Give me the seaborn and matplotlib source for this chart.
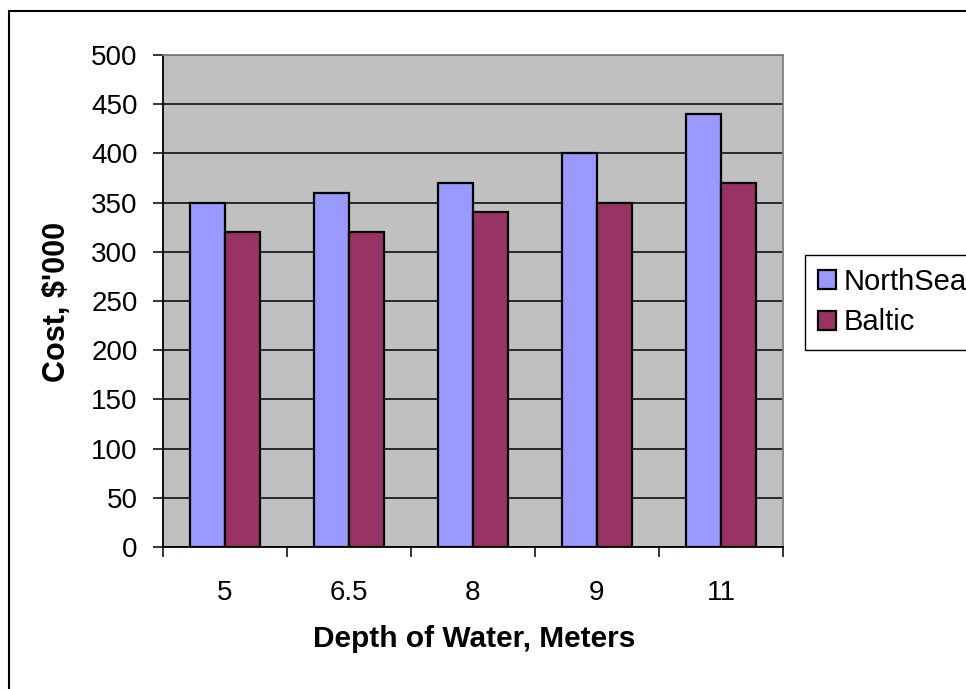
import matplotlib
matplotlib.use("Agg")
import matplotlib.pyplot as plt
import seaborn as sns
import pandas as pd
from matplotlib.patches import Rectangle

depths = ["5", "6.5", "8", "9", "11"]
north_sea = [350, 360, 370, 400, 440]
baltic = [320, 320, 340, 350, 370]
series_names = ["NorthSea", "Baltic"]
y_ticks = [0, 50, 100, 150, 200, 250, 300, 350, 400, 450, 500]

df = pd.DataFrame({
    "Depth": depths * 2,
    "Cost": north_sea + baltic,
    "Series": [series_names[0]] * len(depths) + [series_names[1]] * len(depths),
})

sns.set_theme(style="white")
plt.rcParams["font.family"] = ["Liberation Sans", "DejaVu Sans"]
plt.rcParams["text.color"] = "black"
plt.rcParams["axes.labelcolor"] = "black"
plt.rcParams["xtick.color"] = "black"
plt.rcParams["ytick.color"] = "black"

W, H = 966, 689
fig = plt.figure(figsize=(W / 100, H / 100), dpi=100)
fig.patch.set_facecolor("white")
left, right, top, bottom = 163, 783, 55, 547
ax = fig.add_axes([left / W, 1 - bottom / H, (right - left) / W, (bottom - top) / H])
ax.set_facecolor("#C0C0C0")

sns.barplot(data=df, x="Depth", y="Cost", hue="Series", order=depths,
            hue_order=series_names, palette=["#9999FF", "#993366"],
            saturation=1, width=0.565, edgecolor="black", linewidth=1.6, ax=ax,
            errorbar=None, legend=True, zorder=3)

ax.set_ylim(0, 500)
ax.set_xlim(-0.5, len(depths) - 0.5)
ax.set_yticks(y_ticks)
ax.set_yticklabels([str(v) for v in y_ticks], fontsize=20, color="black")
ax.yaxis.grid(True, color="black", linewidth=1.1, zorder=0)
ax.set_axisbelow(True)

# x ticks at category boundaries, labels at centers
ax.set_xticks([i - 0.5 for i in range(len(depths) + 1)])
ax.set_xticklabels([])
ax.set_xticks(range(len(depths)), minor=True)
ax.set_xticklabels(depths, minor=True, fontsize=20, color="black")
ax.tick_params(axis="x", which="major", direction="out", length=7.5, width=1.1,
               color="black", bottom=True)
ax.tick_params(axis="x", which="minor", length=0, pad=24, bottom=True)
ax.tick_params(axis="y", direction="out", length=7.2, width=1.1, color="black",
               pad=11, left=True)

for s in ["left", "bottom"]:
    ax.spines[s].set_color("black")
    ax.spines[s].set_linewidth(1.3)
for s in ["top", "right"]:
    ax.spines[s].set_color("#808080")
    ax.spines[s].set_linewidth(1.3)

ax.set_xlabel("Depth of Water, Meters", fontsize=21.5, fontweight="bold", color="black")
ax.set_ylabel("Cost, $'000", fontsize=22, fontweight="bold", color="black")
ax.xaxis.set_label_coords((474 - left) / (right - left), (bottom - 639) / (bottom - top))
ax.xaxis.label.set_va("center")
ax.yaxis.set_label_coords((57 - left) / (right - left), (bottom - 302) / (bottom - top))
ax.yaxis.label.set_va("center")

leg = ax.legend(loc="upper left", bbox_to_anchor=(805 / W, 1 - 255 / H),
                bbox_transform=fig.transFigure, fontsize=21, frameon=True,
                fancybox=False, shadow=False, borderaxespad=0, borderpad=0.45,
                handlelength=0.62, handleheight=0.62, handletextpad=0.25,
                labelspacing=0.42, title=None)
leg.get_frame().set_edgecolor("black")
leg.get_frame().set_linewidth(1.0)
leg.get_frame().set_facecolor("white")
leg.get_frame().set_alpha(1)
for t in leg.get_texts():
    t.set_color("black")

# outer chart border (right/bottom edges lie outside the image)
fig.patches.append(Rectangle((9 / W, -0.1), 1.2, (H - 11) / H + 0.1,
                             transform=fig.transFigure, fill=False,
                             edgecolor="black", linewidth=1.5, zorder=10))

fig.savefig("out.png", dpi=100)
